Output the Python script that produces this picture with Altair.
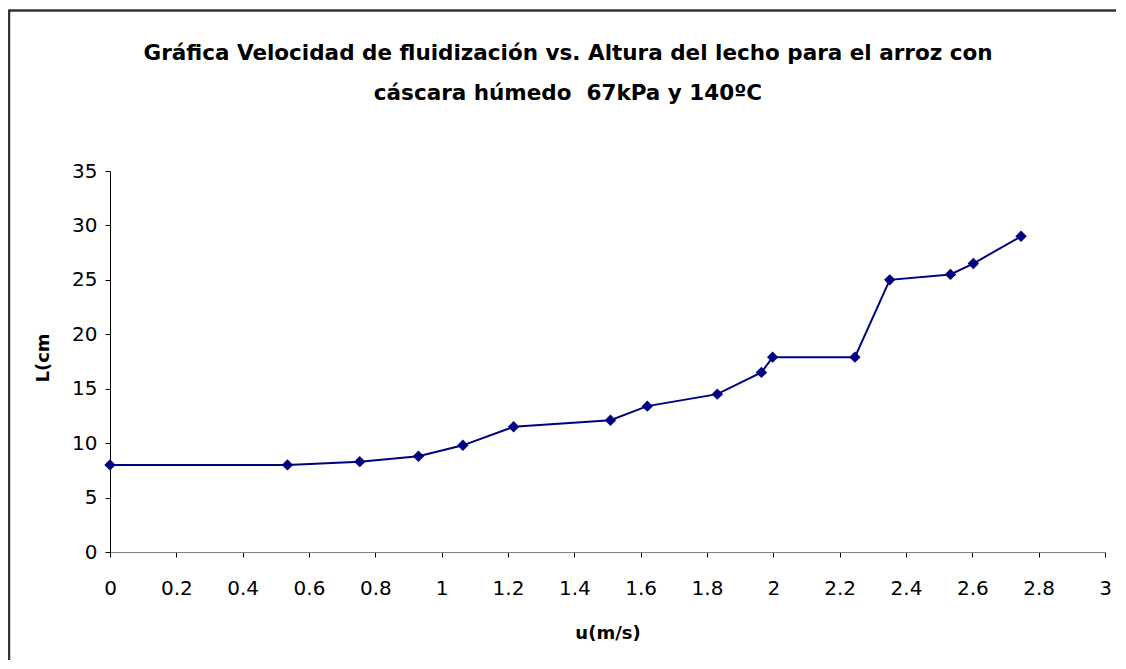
import altair as alt
import pandas as pd

u_vals = [0.0, 0.535, 0.753, 0.930, 1.064, 1.217, 1.509, 1.620, 1.831, 1.964, 1.998, 2.246, 2.351, 2.534, 2.603, 2.747]
L_vals = [8.0, 8.0, 8.3, 8.8, 9.8, 11.5, 12.1, 13.4, 14.5, 16.5, 17.9, 17.9, 25.0, 25.5, 26.5, 29.0]
x_ticks = [0, 0.2, 0.4, 0.6, 0.8, 1, 1.2, 1.4, 1.6, 1.8, 2, 2.2, 2.4, 2.6, 2.8, 3]
y_ticks = [0, 5, 10, 15, 20, 25, 30, 35]
title_lines = ["Gráfica Velocidad de fluidización vs. Altura del lecho para el arroz con",
               "cáscara húmedo \u00a067kPa y 140ºC"]

df = pd.DataFrame({"u": u_vals, "L": L_vals})
FONT = "DejaVu Sans"
W, H = 995, 381

x_enc = alt.X("u:Q", scale=alt.Scale(domain=[0, 3], nice=False, zero=False),
              axis=alt.Axis(values=x_ticks, format="~g", title="u(m/s)", grid=False,
                            tickSize=5, labelPadding=21, labelFontSize=20,
                            labelFont=FONT, labelColor="#000", labelFlush=False,
                            labelOverlap=False, domainColor="#808080", tickColor="#000",
                            titleFont=FONT, titleFontSize=18, titleFontWeight="bold",
                            titleColor="#000", titleY=81, titleBaseline="middle"))
y_enc = alt.Y("L:Q", scale=alt.Scale(domain=[0, 35], nice=False),
              axis=alt.Axis(values=y_ticks, format="~g", title="L(cm", grid=False,
                            tickSize=5, labelPadding=8, labelFontSize=20,
                            labelFont=FONT, labelColor="#000", domainColor="#000",
                            tickColor="#000", labelOverlap=False,
                            titleFont=FONT, titleFontSize=18, titleFontWeight="bold",
                            titleColor="#000", titleX=-67, titleY=H / 2 - 4,
                            titleBaseline="middle", titleAngle=-90))

line = alt.Chart(df).mark_line(color="#000080", strokeWidth=2).encode(x=x_enc, y=y_enc)
pts = alt.Chart(df).mark_point(shape="diamond", filled=True, color="#000080",
                               size=130, opacity=1).encode(x="u:Q", y="L:Q")

one = pd.DataFrame({"a": [0]})
top_rule = alt.Chart(one).mark_rule(color="#333333", strokeWidth=2.5).encode(
    x=alt.value(-101), x2=alt.value(1006), y=alt.value(-160.5))
left_rule = alt.Chart(one).mark_rule(color="#333333", strokeWidth=2.5).encode(
    x=alt.value(-101), y=alt.value(-161.5), y2=alt.value(489))

title = alt.Chart(one).mark_text(
    text=title_lines, font=FONT, fontSize=21.5, fontWeight="bold", color="#000",
    align="center", baseline="alphabetic", lineHeight=40
).encode(x=alt.value(458), y=alt.value(-111))

chart = alt.layer(top_rule, left_rule, title, line, pts).properties(
    width=W, height=H,
    autosize=alt.AutoSizeParams(type="none"),
    padding={"left": 102, "top": 163, "right": 13, "bottom": 109},
).configure_view(stroke=None)

chart.save("out.html", embed_options={"renderer": "svg", "actions": False})
